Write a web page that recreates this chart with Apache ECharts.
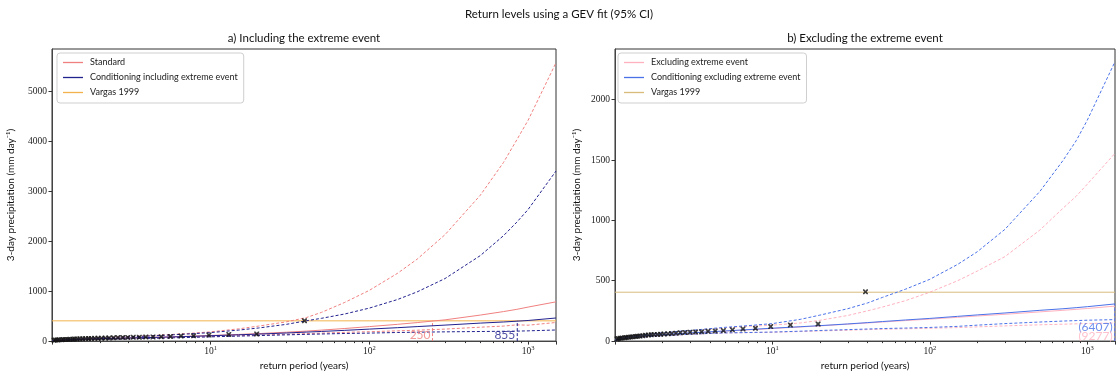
<!DOCTYPE html>
<html>
<head>
<meta charset="utf-8">
<script src="https://cdn.jsdelivr.net/npm/echarts@6/dist/echarts.min.js"></script>
<style>
  html, body { margin: 0; padding: 0; background: #fff; }
  #chart { width: 1118px; height: 376px; }
</style>
</head>
<body>
<div id="chart"></div>
<script>
// Return periods (years) at which the fitted return-level curves are sampled
const periods = [1, 1.05, 1.1, 1.2, 1.35, 1.5, 1.75, 2, 2.5, 3, 4, 5, 7, 10, 15, 20, 30, 40, 50, 70, 100, 150, 200, 300, 500, 700, 850, 1000, 1500];

// a) Including the extreme event (mm/day)
const standardMid = [5, 14, 20, 27, 34, 39, 45, 50, 58, 64, 73, 81, 95, 112, 133, 150, 178, 200, 220, 252, 290, 335, 370, 425, 520, 590, 635, 680, 785];
const standardUp  = [10, 20, 27, 35, 44, 50, 58, 65, 77, 87, 105, 122, 150, 185, 245, 300, 385, 470, 575, 774, 1015, 1353, 1638, 2129, 2916, 3571, 4026, 4413, 5566];
const standardLo  = [2, 8, 13, 19, 25, 30, 36, 40, 47, 52, 60, 67, 78, 92, 108, 120, 138, 150, 160, 175, 188, 205, 218, 240, 278, 300, 325, 318, 372];
const condInclMid = [5, 13, 19, 26, 33, 38, 44, 49, 56, 62, 71, 78, 91, 107, 126, 140, 162, 180, 193, 215, 240, 268, 290, 320, 360, 382, 398, 412, 462];
const condInclUp  = [10, 18, 25, 33, 41, 47, 55, 62, 73, 83, 100, 115, 140, 170, 220, 262, 335, 406, 456, 542, 660, 830, 984, 1251, 1709, 2107, 2379, 2630, 3400];
const condInclLo  = [2, 8, 12, 18, 24, 28, 33, 37, 43, 48, 55, 61, 72, 85, 100, 110, 125, 135, 142, 152, 160, 172, 178, 185, 192, 196, 199, 205, 222];

// b) Excluding the extreme event (mm/day)
const excludingMid = [5, 15, 22, 30, 37, 42, 48, 53, 61, 67, 76, 83, 93, 104, 117, 126, 140, 150, 158, 170, 182, 197, 208, 222, 242, 255, 263, 270, 290];
const excludingUp  = [10, 22, 30, 38, 46, 52, 60, 66, 78, 86, 100, 110, 122, 132, 150, 172, 212, 250, 282, 335, 405, 500, 580, 700, 920, 1100, 1200, 1300, 1556];
const excludingLo  = [1, 9, 15, 22, 28, 33, 39, 44, 51, 56, 63, 67, 70, 73, 79, 84, 90, 95, 98, 102, 106, 112, 118, 126, 135, 140, 143, 146, 150];
const condExclMid  = [6, 16, 23, 31, 38, 43, 49, 54, 62, 68, 77, 84, 95, 107, 119, 128, 142, 153, 162, 175, 188, 205, 217, 233, 255, 268, 277, 285, 308];
const condExclUp   = [12, 24, 32, 40, 48, 54, 62, 68, 80, 88, 103, 114, 128, 145, 180, 215, 268, 315, 362, 430, 512, 635, 740, 926, 1240, 1495, 1660, 1830, 2315];
const condExclLo   = [1, 10, 16, 23, 29, 34, 40, 45, 52, 57, 64, 68, 71, 75, 82, 88, 95, 100, 104, 108, 113, 122, 132, 145, 158, 166, 170, 173, 178];

// Observed annual maxima of 3-day precipitation and their empirical return periods
const obsPeriods = [39, 19.5, 13, 9.75, 7.8, 6.5, 5.57, 4.88, 4.33, 3.9, 3.55, 3.25, 3.0, 2.79, 2.6, 2.44, 2.29, 2.17, 2.05, 1.95, 1.86, 1.77, 1.7, 1.63, 1.56, 1.5, 1.44, 1.39, 1.35, 1.3, 1.26, 1.22, 1.18, 1.15, 1.11, 1.08, 1.05, 1.03];
const obsValues  = [408, 142, 134, 120, 107, 101, 93, 87, 84, 82, 78, 76, 74, 72, 70, 66, 62, 60, 58, 57, 55, 54, 52, 50, 48, 45, 42, 40, 38, 36, 34, 32, 30, 28, 26, 24, 22, 18];

// Vargas 1999 event magnitude
const vargasLevel = 405;
// Return period at which each central estimate reaches the Vargas level
const crossA = [250, 855];        // Standard, Conditioning including
const crossB = [6407, 9277];      // Conditioning excluding, Excluding (beyond the axis)

// Minor tick positions on the log axes
const minorTicks = [2, 3, 4, 5, 6, 7, 8, 9, 20, 30, 40, 50, 60, 70, 80, 90, 200, 300, 400, 500, 600, 700, 800, 900];
const yTicksA = [0, 1000, 2000, 3000, 4000, 5000];
const yTicksB = [0, 500, 1000, 1500, 2000];

const xMin = 1, xMax = 1500;
const yMaxA = 5840, yMaxB = 2420;

const SANS = 'Lato, "DejaVu Sans", sans-serif';
const SERIF = '"Liberation Serif", "DejaVu Serif", serif';

const C = {
  standard: '#f08080',
  condIncl: '#22228f',
  vargasA: '#f3b24e',
  excluding: '#ffb1bf',
  condExcl: '#4a72e8',
  vargasB: '#d9bb7c'
};

const pairs = (xs, ys) => xs.map((x, i) => [x, ys[i]]);

function curve(name, values, color, dashed, idx, z) {
  return {
    type: 'line', name, xAxisIndex: idx, yAxisIndex: idx,
    data: pairs(periods, values),
    symbol: 'none', silent: true, z: z || 2,
    lineStyle: { color, width: 1, type: dashed ? [3, 2] : 'solid' },
    itemStyle: { color }
  };
}

function hline(name, level, color, idx) {
  return {
    type: 'line', name, xAxisIndex: idx, yAxisIndex: idx,
    data: [[xMin, level], [xMax, level]],
    symbol: 'none', silent: true, z: 1,
    lineStyle: { color, width: 1 }, itemStyle: { color }
  };
}

// Dashed vertical marker at a return period, clamped to the right edge of the axis
function vline(period, top, color, idx) {
  const x = Math.min(period, xMax * 0.995);
  return {
    type: 'line', name: 'rp-' + period, xAxisIndex: idx, yAxisIndex: idx,
    data: [[x, 0], [x, top]],
    symbol: 'none', silent: true, z: 2,
    lineStyle: { color, width: 1, type: [3, 2] }
  };
}

function periodLabel(period, text, color, idx, dy) {
  return {
    type: 'scatter', name: 'lbl-' + text, xAxisIndex: idx, yAxisIndex: idx,
    data: [[Math.min(period, xMax * 0.995), 0]],
    symbolSize: 0, silent: true, z: 5,
    label: {
      show: true, position: 'left', distance: 2, offset: [0, dy],
      formatter: text, color, fontSize: 12, fontFamily: SANS
    }
  };
}

function observations(idx) {
  return {
    type: 'scatter', name: 'obs', xAxisIndex: idx, yAxisIndex: idx,
    data: pairs(obsPeriods, obsValues),
    symbol: 'path://M0,0 L2.4,0 L5,2.6 L7.6,0 L10,0 L10,2.4 L7.4,5 L10,7.6 L10,10 L7.6,10 L5,7.4 L2.4,10 L0,10 L0,7.6 L2.6,5 L0,2.4 Z',
    symbolSize: 5, silent: true, z: 6,
    itemStyle: { color: '#111' }
  };
}

function minorTickSeries(idx) {
  return {
    type: 'custom', name: 'minor', xAxisIndex: idx, yAxisIndex: idx,
    data: minorTicks.map(t => [t, 0]), silent: true, clip: false, z: 10,
    renderItem: (params, api) => {
      const p = api.coord([api.value(0), 0]);
      const x = Math.round(p[0]) + 0.5;
      return { type: 'line', shape: { x1: x, y1: p[1], x2: x, y2: p[1] + 2 },
               style: { stroke: '#333', lineWidth: 1 } };
    }
  };
}

function logLabel(v) {
  const e = Math.log10(v);
  const r = Math.round(e);
  if (Math.abs(e - r) < 1e-6 && r >= 1) return '{b|10}{sup|' + r + '}';
  return '';
}

function xAxis(idx) {
  return {
    type: 'log', logBase: 10, gridIndex: idx, min: xMin, max: xMax,
    name: 'return period (years)', nameLocation: 'middle', nameGap: 19,
    nameTextStyle: { fontFamily: SANS, fontSize: 10, color: '#111' },
    axisLine: { lineStyle: { color: '#444', width: 1 } },
    axisTick: { show: true, length: 3.5, lineStyle: { color: '#333' } },
    minorTick: { show: false },
    splitLine: { show: false },
    axisLabel: {
      formatter: logLabel, margin: 4, color: '#222',
      rich: {
        b: { fontFamily: SERIF, fontSize: 9.5, color: '#222', lineHeight: 12 },
        sup: { fontFamily: SERIF, fontSize: 6.5, color: '#222', verticalAlign: 'top', lineHeight: 8 }
      }
    }
  };
}

function yAxis(idx, max, step, ticks, gap) {
  return {
    type: 'value', gridIndex: idx, min: 0, max: max, interval: step,
    name: '3-day precipitation (mm day\u207B\u00B9)', nameLocation: 'middle', nameRotate: 90, nameGap: gap,
    nameTextStyle: { fontFamily: SANS, fontSize: 10, color: '#111' },
    axisLine: { show: true, lineStyle: { color: '#444', width: 1 } },
    axisTick: { show: true, length: 3.5, lineStyle: { color: '#333' }, customValues: ticks },
    splitLine: { show: false },
    axisLabel: { fontFamily: SERIF, fontSize: 9.5, color: '#222', margin: 5,
                 customValues: ticks, formatter: v => String(v) }
  };
}

const legendBase = {
  orient: 'vertical', top: 53, icon: 'rect', itemWidth: 20, itemHeight: 1.3, itemGap: 4,
  padding: [4, 6, 5, 6], borderColor: '#cfcfcf', borderWidth: 1, borderRadius: 3,
  backgroundColor: 'rgba(255,255,255,0.85)', selectedMode: false,
  textStyle: { fontFamily: SANS, fontSize: 9, lineHeight: 11, color: '#222', padding: [0, 0, 0, 2] }
};

const option = {
  animation: false,
  backgroundColor: '#fff',
  title: [
    { text: 'Return levels using a GEV fit (95% CI)', left: 559, top: 8, textAlign: 'center', padding: 0,
      textStyle: { fontFamily: SANS, fontSize: 11.5, fontWeight: 'normal', color: '#111' } },
    { text: 'a) Including the extreme event', left: 304, top: 32, textAlign: 'center', padding: 0,
      textStyle: { fontFamily: SANS, fontSize: 11.5, fontWeight: 'normal', color: '#111' } },
    { text: 'b) Excluding the extreme event', left: 865, top: 32, textAlign: 'center', padding: 0,
      textStyle: { fontFamily: SANS, fontSize: 11.5, fontWeight: 'normal', color: '#111' } }
  ],
  legend: [
    Object.assign({}, legendBase, { left: 57, data: ['Standard', 'Conditioning including extreme event', 'Vargas 1999'] }),
    Object.assign({}, legendBase, { left: 618, data: ['Excluding extreme event', 'Conditioning excluding extreme event', 'Vargas 1999 '] })
  ],
  grid: [
    { left: 52, top: 49, width: 504, height: 293, show: true, borderColor: '#333', borderWidth: 1, backgroundColor: 'transparent' },
    { left: 615, top: 49, width: 501, height: 293, show: true, borderColor: '#333', borderWidth: 1, backgroundColor: 'transparent' }
  ],
  xAxis: [xAxis(0), xAxis(1)],
  yAxis: [yAxis(0, yMaxA, 1000, yTicksA, 36), yAxis(1, yMaxB, 500, yTicksB, 33)],
  series: [
    // a) Including the extreme event
    hline('Vargas 1999', vargasLevel, C.vargasA, 0),
    curve('Standard', standardMid, C.standard, false, 0, 3),
    curve('Standard CI', standardUp, C.standard, true, 0),
    curve('Standard CI', standardLo, C.standard, true, 0),
    curve('Conditioning including extreme event', condInclMid, C.condIncl, false, 0, 3),
    curve('Conditioning CI', condInclUp, C.condIncl, true, 0),
    curve('Conditioning CI', condInclLo, C.condIncl, true, 0),
    vline(crossA[0], vargasLevel, C.standard, 0),
    vline(crossA[1], vargasLevel, C.condIncl, 0),
    periodLabel(crossA[0], String(crossA[0]), C.standard, 0, -6),
    periodLabel(crossA[1], String(crossA[1]), C.condIncl, 0, -6),
    observations(0),
    minorTickSeries(0),

    // b) Excluding the extreme event
    hline('Vargas 1999 ', vargasLevel, C.vargasB, 1),
    curve('Excluding extreme event', excludingMid, C.excluding, false, 1, 3),
    curve('Excluding CI', excludingUp, C.excluding, true, 1),
    curve('Excluding CI', excludingLo, C.excluding, true, 1),
    curve('Conditioning excluding extreme event', condExclMid, C.condExcl, false, 1, 3),
    curve('Conditioning excl CI', condExclUp, C.condExcl, true, 1),
    curve('Conditioning excl CI', condExclLo, C.condExcl, true, 1),
    vline(crossB[1], excludingMid[excludingMid.length - 1], C.excluding, 1),
    vline(crossB[0], condExclMid[condExclMid.length - 1], C.condExcl, 1),
    periodLabel(crossB[0], '(' + crossB[0] + ')', C.condExcl, 1, -14),
    periodLabel(crossB[1], '(' + crossB[1] + ')', C.excluding, 1, -5),
    observations(1),
    minorTickSeries(1)
  ]
};

const chart = echarts.init(document.getElementById('chart'), null, { renderer: 'canvas' });
chart.setOption(option);
</script>
</body>
</html>
